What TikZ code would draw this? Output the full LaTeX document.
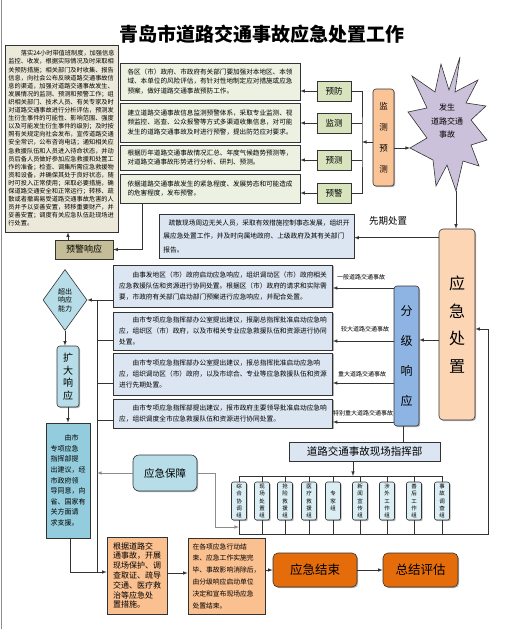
\documentclass[tikz,border=0pt]{standalone}
\usepackage{fontspec}
\setmainfont{Noto Sans CJK SC}
\XeTeXlinebreaklocale "zh"
\XeTeXlinebreakskip = 0pt plus 1pt
\usetikzlibrary{shapes.geometric,shadows}

\definecolor{cBeige}{RGB}{236,233,218}
\definecolor{cGreenGray}{RGB}{236,241,226}
\definecolor{cGreen}{RGB}{215,228,189}
\definecolor{cPeach}{RGB}{250,196,150}
\definecolor{cLavender}{RGB}{204,193,218}
\definecolor{cKhaki}{RGB}{196,189,151}
\definecolor{cBlueGray}{RGB}{220,230,242}
\definecolor{cPeachLight}{RGB}{252,213,181}
\definecolor{cBlue}{RGB}{142,180,227}
\definecolor{cTeal}{RGB}{183,222,232}
\definecolor{cTealDark}{RGB}{147,205,221}
\definecolor{cIce}{RGB}{219,238,244}
\definecolor{cSalmon}{RGB}{250,192,144}
\definecolor{cOrange}{RGB}{228,108,10}

\begin{document}
\begin{tikzpicture}[>=latex, x=1pt, y=-1pt,
    hop/.style={draw=black!80, line width=0.6pt, inner sep=2pt, align=left,
        drop shadow={shadow xshift=1.2pt, shadow yshift=-1.2pt, opacity=0.6}},
    tbox/.style={hop, fill=cGreenGray, minimum width=180pt, font=\fontsize{6.6}{9.8}\selectfont},
    pbox/.style={hop, fill=cGreen, minimum width=34pt, minimum height=20pt, align=center, font=\fontsize{8.5}{10}\selectfont},
    rbox/.style={hop, fill=cBlueGray, minimum width=219pt, font=\fontsize{6.7}{10.8}\selectfont},
    vbox/.style={hop, align=center, rounded corners=3pt},
    gbox/.style={hop, fill=cIce, rounded corners=2pt, minimum width=15pt, minimum height=38pt, inner sep=1pt, align=center, font=\fontsize{5.5}{7.3}\selectfont},
    obox/.style={hop, fill=cOrange, rounded corners=5pt, minimum height=34pt, align=center, font=\fontsize{12.5}{14}\selectfont},
    lbl/.style={inner sep=0pt, font=\fontsize{6}{7}\selectfont},
    conn/.style={draw=black!80, line width=0.6pt},
    gline/.style={draw=black!45, line width=0.6pt}
]
    % 0. Khung trang
    \fill[white] (0,0) rectangle (529,629);
    \useasboundingbox (0,0) rectangle (529,629);
    \draw[black!45, line width=1pt] (1,0) -- (1,629);

    % 1. Tiêu đề
    \node[font=\fontsize{19}{22}\selectfont\bfseries] (title) at (262,34) {青岛市道路交通事故应急处置工作};

    % 2. Khối chữ lớn bên trái
    \node[hop, fill=cBeige, minimum width=113pt, minimum height=187pt, font=\fontsize{6.2}{8.1}\selectfont] (bigbox) at (61.5,138.5)
        {\hspace*{2em}落实24小时带值班制度，加强信息\\监控、收发，根据实际情况及时采取相\\关预防措施；相关部门及时收集、报告\\信息，向社会公布反映道路交通事故信\\息的渠道，加强对道路交通事故发生、\\发展情况的监测、预测和预警工作；组\\织相关部门、技术人员、有关专家及时\\对道路交通事故进行分析评估，预测发\\生衍生事件的可能性、影响范围、强度\\以及可能发生衍生事件的级别；及时按\\照有关规定向社会发布，宣传道路交通\\安全常识，公布咨询电话；通知相关应\\急救援队伍和人员进入待命状态，并动\\员后备人员做好参加应急救援和处置工\\作的准备；检查、调集所需应急救援物\\资和设备，并确保其处于良好状态，随\\时可投入正常使用；采取必要措施，确\\保道路交通安全和正常运行；转移、疏\\散或者撤离易受道路交通事故危害的人\\员并予以妥善安置，转移重要财产，并\\妥善安置；调度有关应急队伍赴现场进\\行处置。};

    % 3. Bốn khối mô tả phòng ngừa
    \node[tbox, minimum height=37pt] (t1) at (210,81.5)
        {各区（市）政府、市政府有关部门要加强对本地区、本领\\域、本单位的风险评估，有针对性地制定应对措施或应急\\预案，做好道路交通事故预防工作。};
    \node[tbox, minimum height=39pt] (t2) at (210,122.5)
        {建立道路交通事故信息监测预警体系，采取专业监测、视\\频监控、巡查、公众报警等方式多渠道收集信息，对可能\\发生的道路交通事故及时进行预警，提出防范应对要求。};
    \node[tbox, minimum height=25pt] (t3) at (210,157.5)
        {根据历年道路交通事故情况汇总、年度气候趋势预测等，\\对道路交通事故形势进行分析、研判、预测。};
    \node[tbox, minimum height=29pt] (t4) at (210,188.5)
        {依据道路交通事故发生的紧急程度、发展势态和可能造成\\的危害程度，发布预警。};

    \node[pbox] (yufang) at (334,91) {预防};
    \node[pbox] (jiance) at (334,123) {监测};
    \node[pbox] (yuce) at (334,160) {预测};
    \node[pbox] (yujing) at (334,193) {预警};

    \node[vbox, fill=cPeach, minimum width=21pt, minimum height=97pt, font=\fontsize{8.5}{21}\selectfont] (jcyc) at (383.5,137.5) {监\\测\\预\\测};

    % 4. Hình nổ "phát sinh tai nạn"
    \draw[conn, fill=cLavender] (460,57) -- (455,92) -- (478,80) -- (466,103) -- (486,106) -- (471,120)
        -- (487,140) -- (471,145) -- (479,166) -- (463,161) -- (456,191) -- (447,165) -- (436,186)
        -- (433,160) -- (410,148) -- (427,138) -- (408,112) -- (427,108) -- (412,76) -- (435,92)
        -- (441,64) -- (449,90) -- cycle;
    \coordinate (burstleft) at (410,148);
    \coordinate (burstbot) at (456,191);
    \node[align=center, font=\fontsize{8}{13.5}\selectfont] (accident) at (447,121) {发生\\道路交通\\事故};

    % 5. Xử lý ban đầu
    \node[hop, fill=cBlueGray, minimum width=195pt, minimum height=44pt, font=\fontsize{6.7}{13.5}\selectfont] (xianqi) at (256.5,236)
        {\hspace*{0.8em}疏散现场周边无关人员，采取有效措施控制事态发展，组织开\\展应急处置工作，并及时向属地政府、上级政府及其有关部门\\报告。};
    \node[inner sep=0pt, font=\fontsize{9.5}{11}\selectfont] (xqlbl) at (388,221) {先期处置};
    \node[hop, fill=cKhaki, minimum width=58pt, minimum height=19pt, align=center, font=\fontsize{9}{10}\selectfont] (yjresp) at (84,249.5) {预警响应};

    \node[vbox, fill=cPeachLight, rounded corners=4pt, minimum width=36pt, minimum height=191pt, font=\fontsize{16}{27.7}\selectfont] (yjcz) at (457,324.5) {应\\急\\处\\置};
    \node[vbox, fill=cBlue, minimum width=25pt, minimum height=140pt, font=\fontsize{12}{30}\selectfont] (fenji) at (406.5,356) {分\\级\\响\\应};

    % 6. Bốn cấp ứng phó
    \node[rbox, minimum height=42pt] (r1) at (223,286)
        {\hspace*{2em}由事发地区（市）政府启动应急响应，组织调动区（市）政府相关\\应急救援队伍和资源进行协同处置。根据区（市）政府的请求和实际需\\要，市政府有关部门启动部门预案进行应急响应，并配合处置。};
    \node[rbox, minimum height=38pt] (r2) at (223,331)
        {\hspace*{2em}由市专项应急指挥部办公室提出建议，报副总指挥批准启动应急响\\应，组织区（市）政府，以及市相关专业应急救援队伍和资源进行协同\\处置。};
    \node[rbox, minimum height=42pt] (r3) at (223,374)
        {\hspace*{2em}由市专项应急指挥部办公室提出建议，报总指挥批准启动应急响\\应，组织调动区（市）政府，以及市综合、专业等应急救援队伍和资源\\进行先期处置。};
    \node[rbox, minimum height=29pt] (r4) at (223,413.5)
        {\hspace*{2em}由市专项应急指挥部提出建议，报市政府主要领导批准启动应急响\\应，组织调度全市应急救援队伍和资源进行协同处置。};

    \node[lbl] (lbl1) at (361,277) {一般道路交通事故};
    \node[lbl] (lbl2) at (365,329) {较大道路交通事故};
    \node[lbl] (lbl3) at (362,374) {重大道路交通事故};
    \node[lbl] (lbl4) at (363,413) {特别重大道路交通事故};

    % 7. Nhánh mở rộng bên trái
    \node[diamond, draw=black!80, line width=0.6pt, fill=cTeal, inner sep=0pt, minimum width=44pt, minimum height=61pt, align=center, font=\fontsize{7}{8.5}\selectfont] (chaochu) at (65,300) {超出\\响应\\能力};
    \node[vbox, fill=cTeal, minimum width=22pt, minimum height=61pt, font=\fontsize{10}{12.5}\selectfont] (kuoda) at (68,376.5) {扩\\大\\响\\应};
    \node[hop, fill=cTealDark, minimum width=44pt, minimum height=115pt, font=\fontsize{7}{10.6}\selectfont] (zhiyuan) at (68,480.5)
        {\hspace*{2em}由市\\专项应急\\指挥部提\\出建议，经\\市政府领\\导同意，向\\省、国家有\\关方面请\\求支援。};
    \node[vbox, fill=cTeal, rounded corners=6pt, minimum width=64pt, minimum height=36pt, font=\fontsize{10.5}{12}\selectfont] (baozhang) at (165,473) {应急保障};

    % 8. Sở chỉ huy hiện trường và các tổ
    \node[hop, fill=cBlueGray, minimum width=151pt, minimum height=19pt, align=center, font=\fontsize{10.5}{12}\selectfont] (zhihui) at (364.5,451.5) {道路交通事故现场指挥部};
    \foreach \gx/\gt [count=\i] in {239/综\\合\\协\\调\\组, 262/现\\场\\处\\置\\组, 285/抢\\险\\救\\援\\组,
        309/医\\疗\\救\\援\\组, 333/专\\家\\组, 360/新\\闻\\宣\\传\\组, 387/涉\\外\\工\\作\\组,
        414/善\\后\\工\\作\\组, 442/事\\故\\调\\查\\组}
        \node[gbox] (g\i) at (\gx,501) {\gt};

    % 9. Kết thúc
    \node[hop, fill=cSalmon, minimum width=60pt, minimum height=77pt, font=\fontsize{8}{9.8}\selectfont] (cuoshi) at (137,575.5)
        {根据道路交\\通事故，开展\\现场保护、调\\查取证、疏导\\交通、医疗救\\治等应急处\\置措施。};
    \node[hop, fill=cSalmon, minimum width=77pt, minimum height=76pt, font=\fontsize{6.8}{11.8}\selectfont] (jieshu) at (226.5,576)
        {在各项应急行动结\\束、应急工作实施完\\毕、事故影响消除后，\\由分级响应启动单位\\决定和宣布现场应急\\处置结束。};
    \node[obox, minimum width=84pt] (yjjs) at (315,570) {应急结束};
    \node[obox, minimum width=75pt] (pinggu) at (420.5,570) {总结评估};

    % 10. Các mũi tên
    \coordinate (bus1) at (362,142);
    \draw[conn] (yufang.east) -| (bus1) |- (yujing.east);
    \draw[conn] (jiance.east) -- (jiance.east -| bus1);
    \draw[conn] (yuce.east) -- (yuce.east -| bus1);
    \draw[conn, ->] (jcyc.west |- bus1) -- (bus1);
    \foreach \s/\t in {yufang/t1, jiance/t2, yuce/t3, yujing/t4}
        \draw[conn, ->] (\s.west) -- (\s.west -| \t.east);
    \draw[conn, ->] (jcyc.east |- burstleft) -- (burstleft);
    \draw[conn, ->] (burstbot) -- (burstbot |- yjcz.north);
    \draw[conn, ->] ([yshift=-9pt]yjcz.north west) -- ([yshift=-9pt]yjcz.north west -| xianqi.east);
    \draw[conn, ->] ([xshift=-68pt]t4.south) |- (yjresp.east);
    \draw[conn, ->] ([xshift=-16pt]yjresp.north) -- ([xshift=-16pt]yjresp.north |- bigbox.south);
    \draw[conn, ->] (yjcz.west |- 0,340) -- (fenji.east |- 0,340);
    \foreach \r/\y in {r1/288, r2/341, r3/383, r4/422}
        \draw[conn, ->] (fenji.west |- 0,\y) -- (\r.east |- 0,\y);

    \coordinate (lbtop) at (97,300);
    \coordinate (lbbot) at (97,572);
    \draw[conn, ->] (r1.west |- lbtop) -- (chaochu.east);
    \draw[conn] (lbtop) -- (lbbot);
    \foreach \r/\y in {r2/340, r3/383, r4/420}
        \draw[conn] (\r.west |- 0,\y) -- (lbtop |- 0,\y);
    \draw[conn, ->] (chaochu.south) -- (chaochu.south |- kuoda.north);
    \draw[conn, ->] (kuoda.south) -- (kuoda.south |- zhiyuan.north);
    \draw[conn, ->] ([xshift=2pt]zhiyuan.south) |- (cuoshi.west |- lbbot);
    \draw[gline, ->] (baozhang.west) -- (baozhang.west -| lbtop);
    \draw[gline, ->] (baozhang.east) -- ++(18,0) |- (g1.south |- 0,527);

    \draw[conn] ([xshift=-3.5pt]fenji.south) -- ([xshift=-3.5pt]fenji.south |- zhihui.north);
    \draw[conn, ->] ([xshift=-11.5pt]zhihui.south) -- ([xshift=-11.5pt]zhihui.south |- 0,476);
    \draw[conn] (g1.north |- 0,476) -- (g9.north |- 0,476);
    \coordinate (rbus) at (488,534);
    \foreach \i in {1,...,9} {
        \draw[conn] (g\i.north) -- (g\i.north |- 0,476);
        \draw[conn] (g\i.south) -- (g\i.south |- rbus);
    }
    \draw[conn, ->] (g1.south |- rbus) -- (rbus) |- (yjcz.east |- 0,329);

    \draw[conn, ->] (cuoshi.east |- 0,573) -- (jieshu.west |- 0,573);
    \draw[conn, ->] (jieshu.east |- yjjs.west) -- (yjjs.west);
    \draw[conn, ->] (yjjs.east) -- (pinggu.west);

\end{tikzpicture}
\end{document}
